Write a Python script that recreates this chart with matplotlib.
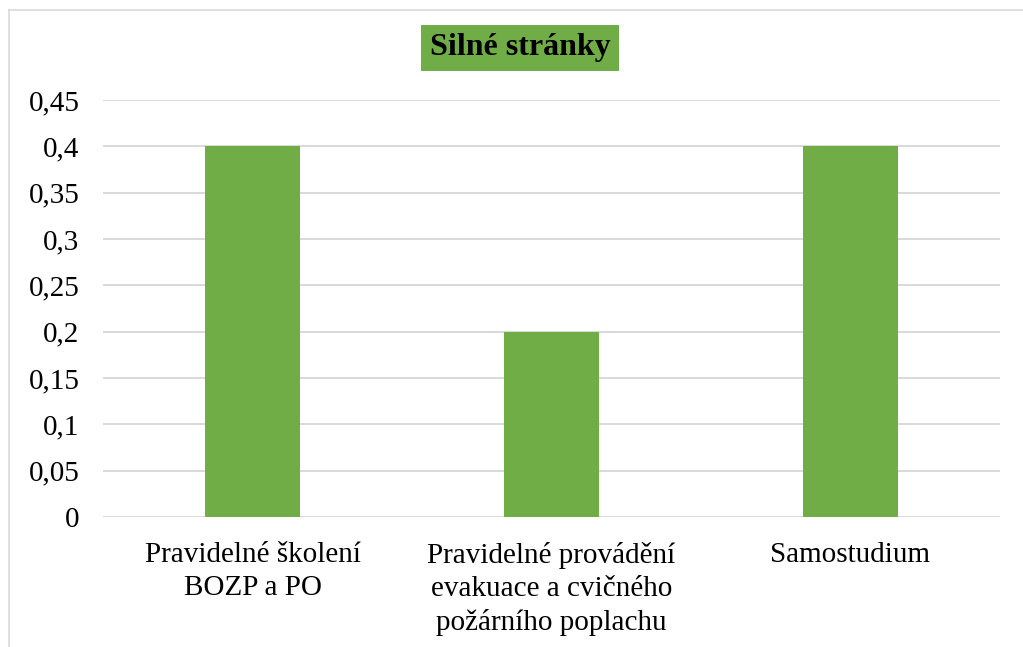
import matplotlib.pyplot as plt
from matplotlib.lines import Line2D

plt.rcParams['font.family'] = ['Liberation Serif', 'DejaVu Serif']

categories = ['Pravidelné školení\nBOZP a PO',
              'Pravidelné provádění\nevakuace a cvičného\npožárního poplachu',
              'Samostudium']
values = [0.4, 0.2, 0.4]
yticks = [0, 0.05, 0.1, 0.15, 0.2, 0.25, 0.3, 0.35, 0.4, 0.45]
ytick_labels = ['0', '0,05', '0,1', '0,15', '0,2', '0,25', '0,3', '0,35', '0,4', '0,45']

fig = plt.figure(figsize=(10.23, 6.47), dpi=100)
ax = fig.add_axes([0.1007, 0.2009, 0.8768, 0.6445])

x = range(len(categories))
ax.bar(x, values, width=0.32, color='#70AD47', zorder=3)

ax.set_xlim(-0.5, 2.5)
ax.set_ylim(0, 0.45)
ax.set_yticks(yticks)
ax.set_yticklabels(ytick_labels, fontfamily='Liberation Serif')
ax.set_xticks(list(x))
ax.set_xticklabels(categories, linespacing=1.35, fontfamily='Liberation Serif')
ax.tick_params(axis='both', length=0, labelsize=21)
ax.tick_params(axis='y', pad=17)
ax.tick_params(axis='x', pad=18)
ax.grid(axis='y', color='#D9D9D9', linewidth=1.4, zorder=0)
for s in ax.spines.values():
    s.set_visible(False)

fig.text(520 / 1023, 1 - 48 / 647, 'Silné stránky', ha='center', va='center',
         fontsize=23, fontweight='bold',
         bbox=dict(facecolor='#70AD47', edgecolor='none', pad=6))

# chart border (top and left visible)
fig.add_artist(Line2D([9 / 1023, 1], [1 - 10 / 647, 1 - 10 / 647],
                      transform=fig.transFigure, color='#D9D9D9', linewidth=1.2))
fig.add_artist(Line2D([9 / 1023, 9 / 1023], [0, 1 - 10 / 647],
                      transform=fig.transFigure, color='#D9D9D9', linewidth=1.2))

fig.savefig('out.png', dpi=100)
